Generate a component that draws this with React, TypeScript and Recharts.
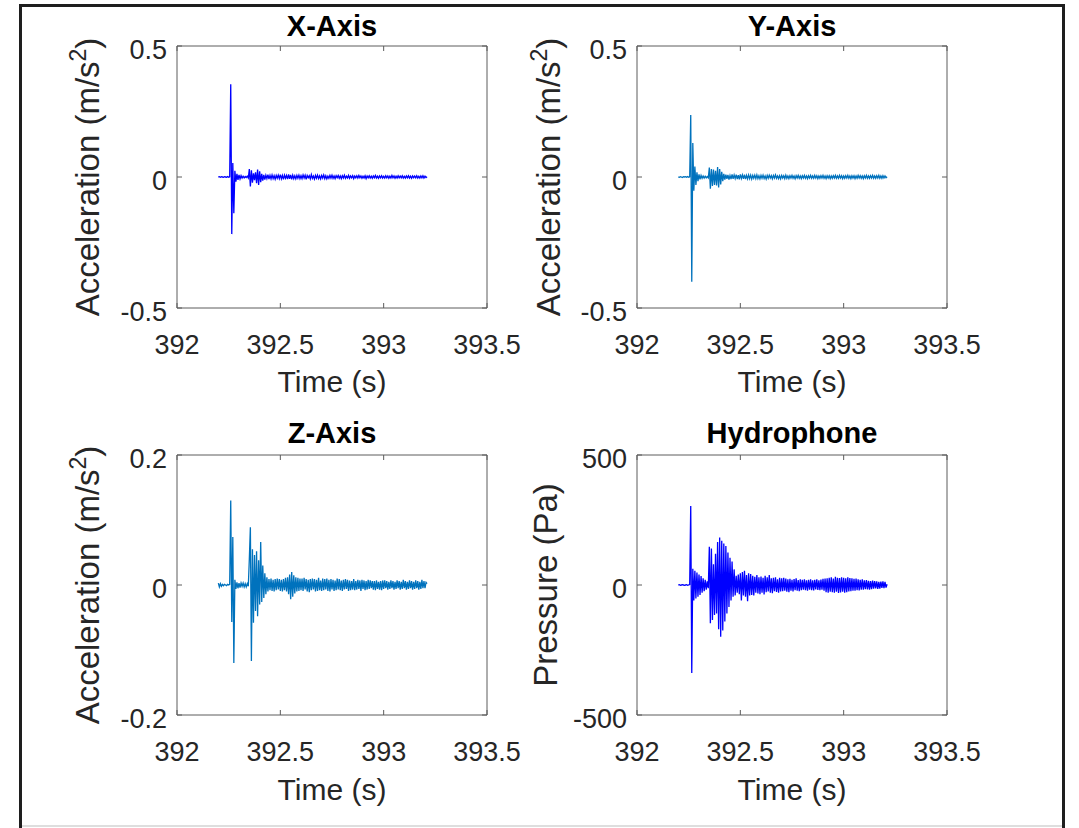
import { LineChart, Line, XAxis, YAxis } from "recharts";

// sample times (s), 5 ms spacing
const time = [
  392.2, 392.205, 392.21, 392.215, 392.22, 392.225, 392.23, 392.235, 392.24, 392.245,
  392.25, 392.255, 392.26, 392.265, 392.27, 392.275, 392.28, 392.285, 392.29, 392.295,
  392.3, 392.305, 392.31, 392.315, 392.32, 392.325, 392.33, 392.335, 392.34, 392.345,
  392.35, 392.355, 392.36, 392.365, 392.37, 392.375, 392.38, 392.385, 392.39, 392.395,
  392.4, 392.405, 392.41, 392.415, 392.42, 392.425, 392.43, 392.435, 392.44, 392.445,
  392.45, 392.455, 392.46, 392.465, 392.47, 392.475, 392.48, 392.485, 392.49, 392.495,
  392.5, 392.505, 392.51, 392.515, 392.52, 392.525, 392.53, 392.535, 392.54, 392.545,
  392.55, 392.555, 392.56, 392.565, 392.57, 392.575, 392.58, 392.585, 392.59, 392.595,
  392.6, 392.605, 392.61, 392.615, 392.62, 392.625, 392.63, 392.635, 392.64, 392.645,
  392.65, 392.655, 392.66, 392.665, 392.67, 392.675, 392.68, 392.685, 392.69, 392.695,
  392.7, 392.705, 392.71, 392.715, 392.72, 392.725, 392.73, 392.735, 392.74, 392.745,
  392.75, 392.755, 392.76, 392.765, 392.77, 392.775, 392.78, 392.785, 392.79, 392.795,
  392.8, 392.805, 392.81, 392.815, 392.82, 392.825, 392.83, 392.835, 392.84, 392.845,
  392.85, 392.855, 392.86, 392.865, 392.87, 392.875, 392.88, 392.885, 392.89, 392.895,
  392.9, 392.905, 392.91, 392.915, 392.92, 392.925, 392.93, 392.935, 392.94, 392.945,
  392.95, 392.955, 392.96, 392.965, 392.97, 392.975, 392.98, 392.985, 392.99, 392.995,
  393.0, 393.005, 393.01, 393.015, 393.02, 393.025, 393.03, 393.035, 393.04, 393.045,
  393.05, 393.055, 393.06, 393.065, 393.07, 393.075, 393.08, 393.085, 393.09, 393.095,
  393.1, 393.105, 393.11, 393.115, 393.12, 393.125, 393.13, 393.135, 393.14, 393.145,
  393.15, 393.155, 393.16, 393.165, 393.17, 393.175, 393.18, 393.185, 393.19, 393.195,
  393.2, 393.205, 393.21,
];

// X-axis acceleration (m/s^2)
const accX = [
  0, 0.001, -0.001, 0.001, 0, -0.001, 0.001, 0, -0.001, 0.002,
  -0.001, 0.001, 0.354, -0.218, 0.053, -0.138, 0.024, -0.018, 0.012, -0.011,
  0.008, -0.007, 0.005, -0.004, 0.003, -0.003, 0.002, -0.002, 0.003, -0.004,
  0.03, -0.036, 0.026, -0.022, 0.014, -0.012, 0.018, -0.024, 0.028, -0.03,
  0.022, -0.02, 0.012, -0.014, 0.008, -0.01, 0.007, -0.006, 0.009, -0.008,
  0.006, -0.007, 0.008, -0.006, 0.005, -0.008, 0.006, -0.005, 0.007, -0.006,
  0.009, -0.007, 0.006, -0.009, 0.007, -0.005, 0.006, -0.008, 0.01, -0.007,
  0.008, -0.009, 0.007, -0.006, 0.005, -0.007, 0.006, -0.005, 0.007, -0.006,
  0.005, -0.006, 0.008, -0.004, 0.007, -0.009, 0.006, -0.003, 0.005, -0.007,
  0.009, -0.005, 0.004, -0.008, 0.006, -0.005, 0.007, -0.006, 0.004, -0.007,
  0.006, -0.004, 0.008, -0.006, 0.005, -0.007, 0.003, -0.005, 0.006, -0.004,
  0.007, -0.005, 0.004, -0.006, 0.005, -0.003, 0.006, -0.005, 0.004, -0.006,
  0.005, -0.004, 0.007, -0.005, 0.003, -0.004, 0.006, -0.005, 0.004, -0.003,
  0.005, -0.006, 0.004, -0.003, 0.005, -0.004, 0.006, -0.003, 0.004, -0.005,
  0.003, -0.004, 0.005, -0.006, 0.004, -0.003, 0.005, -0.004, 0.003, -0.005,
  0.004, -0.003, 0.006, -0.004, 0.003, -0.005, 0.004, -0.003, 0.005, -0.004,
  0.003, -0.004, 0.005, -0.003, 0.004, -0.005, 0.003, -0.004, 0.006, -0.003,
  0.004, -0.005, 0.003, -0.004, 0.005, -0.003, 0.004, -0.003, 0.005, -0.004,
  0.003, -0.004, 0.004, -0.003, 0.005, -0.004, 0.003, -0.005, 0.004, -0.003,
  0.004, -0.003, 0.005, -0.004, 0.003, -0.004, 0.004, -0.003, 0.005, -0.004,
  0.003, -0.002, 0.001,
];

// Y-axis acceleration (m/s^2)
const accY = [
  0, -0.001, 0.001, 0, -0.002, 0.001, 0, 0.001, -0.001, 0.002,
  -0.001, 0.001, 0.237, -0.4, 0.13, -0.052, 0.04, -0.03, 0.018, -0.016,
  0.01, -0.009, 0.006, -0.005, 0.004, -0.004, 0.003, -0.003, 0.002, -0.003,
  0.036, -0.045, 0.03, -0.034, 0.028, -0.03, 0.024, -0.032, 0.038, -0.04,
  0.03, -0.028, 0.02, -0.016, 0.012, -0.01, 0.009, -0.007, 0.008, -0.01,
  0.006, -0.008, 0.01, -0.007, 0.008, -0.006, 0.009, -0.008, 0.007, -0.009,
  0.01, -0.006, 0.008, -0.007, 0.009, -0.008, 0.006, -0.007, 0.008, -0.006,
  0.007, -0.008, 0.006, -0.005, 0.007, -0.006, 0.008, -0.006, 0.005, -0.007,
  0.006, -0.005, 0.007, -0.006, 0.004, -0.008, 0.006, -0.005, 0.007, -0.004,
  0.005, -0.007, 0.006, -0.004, 0.008, -0.005, 0.004, -0.006, 0.005, -0.007,
  0.006, -0.004, 0.005, -0.006, 0.007, -0.005, 0.004, -0.006, 0.005, -0.004,
  0.006, -0.005, 0.004, -0.007, 0.005, -0.004, 0.006, -0.005, 0.004, -0.006,
  0.005, -0.004, 0.006, -0.005, 0.004, -0.006, 0.005, -0.004, 0.006, -0.005,
  0.004, -0.005, 0.006, -0.004, 0.005, -0.006, 0.004, -0.005, 0.005, -0.004,
  0.006, -0.005, 0.004, -0.006, 0.005, -0.004, 0.005, -0.006, 0.004, -0.005,
  0.005, -0.004, 0.006, -0.005, 0.004, -0.005, 0.006, -0.004, 0.005, -0.006,
  0.004, -0.005, 0.005, -0.004, 0.006, -0.005, 0.004, -0.006, 0.005, -0.004,
  0.005, -0.006, 0.004, -0.005, 0.006, -0.004, 0.005, -0.005, 0.004, -0.006,
  0.005, -0.004, 0.006, -0.005, 0.004, -0.005, 0.005, -0.004, 0.006, -0.005,
  0.004, -0.005, 0.005, -0.004, 0.006, -0.005, 0.004, -0.005, 0.005, -0.004,
  0.004, -0.003, 0.001,
];

// Z-axis acceleration (m/s^2)
const accZ = [
  0.003, -0.003, 0.002, -0.002, 0.001, -0.001, 0.001, 0, -0.001, 0.001,
  0, 0.001, 0.13, -0.057, 0.074, -0.12, 0.008, -0.006, 0.004, -0.005,
  0.003, -0.004, 0.003, -0.002, 0.003, -0.003, 0.002, -0.003, 0.002, -0.002,
  0.04, 0.089, -0.117, 0.055, -0.058, 0.046, -0.04, 0.052, -0.048, 0.038,
  -0.03, 0.066, -0.026, 0.03, -0.02, 0.018, -0.014, 0.012, -0.01, 0.009,
  -0.008, 0.01, -0.009, 0.008, -0.01, 0.009, -0.008, 0.01, -0.007, 0.009,
  -0.009, 0.008, -0.01, 0.009, -0.008, 0.011, -0.01, 0.012, -0.014, 0.016,
  -0.022, 0.02, -0.018, 0.015, -0.013, 0.012, -0.01, 0.011, -0.009, 0.01,
  -0.008, 0.01, -0.009, 0.011, -0.007, 0.009, -0.01, 0.008, -0.011, 0.009,
  -0.008, 0.01, -0.007, 0.009, -0.01, 0.008, -0.009, 0.011, -0.008, 0.007,
  -0.009, 0.01, -0.008, 0.009, -0.007, 0.01, -0.009, 0.008, -0.01, 0.009,
  -0.007, 0.008, -0.009, 0.007, -0.008, 0.01, -0.007, 0.009, -0.008, 0.007,
  -0.009, 0.008, -0.007, 0.009, -0.006, 0.008, -0.009, 0.007, -0.008, 0.006,
  -0.007, 0.009, -0.008, 0.006, -0.007, 0.008, -0.006, 0.007, -0.009, 0.008,
  -0.006, 0.007, -0.008, 0.006, -0.007, 0.008, -0.006, 0.007, -0.005, 0.006,
  -0.007, 0.006, -0.008, 0.007, -0.006, 0.005, -0.007, 0.006, -0.008, 0.007,
  -0.006, 0.007, -0.005, 0.006, -0.007, 0.005, -0.006, 0.007, -0.005, 0.006,
  -0.007, 0.005, -0.006, 0.007, -0.005, 0.006, -0.007, 0.005, -0.006, 0.008,
  -0.005, 0.006, -0.007, 0.005, -0.006, 0.007, -0.005, 0.006, -0.007, 0.005,
  -0.006, 0.007, -0.005, 0.006, -0.007, 0.005, -0.006, 0.008, -0.005, 0.006,
  -0.005, 0.004, 0.002,
];

// hydrophone pressure (Pa)
const pressure = [
  0, 1, -1, 0, 1, 0, -1, 0, 1, -1,
  0, 2, 304, -338, 62, -60, 55, -52, 48, -45,
  40, -38, 34, -30, 26, -24, 20, -18, 14, -12,
  147, -147, 140, -135, 80, -115, 120, -110, 165, -170,
  183, -199, 170, -175, 160, -140, 150, -110, 125, -85,
  105, -60, 90, -45, 60, -40, 35, -30, 40, -35,
  45, -60, 50, -40, 55, -45, 38, -62, 45, -40,
  42, -38, 35, -40, 32, -30, 38, -33, 30, -35,
  33, -30, 28, -36, 35, -28, 30, -25, 38, -30,
  26, -32, 28, -24, 30, -27, 22, -30, 28, -25,
  26, -24, 28, -22, 25, -26, 22, -28, 24, -22,
  20, -25, 23, -20, 26, -22, 19, -24, 22, -20,
  20, -18, 22, -20, 18, -22, 20, -18, 22, -20,
  18, -21, 20, -17, 22, -19, 18, -20, 21, -18,
  24, -22, 25, -28, 26, -30, 28, -26, 30, -28,
  25, -30, 32, -26, 28, -31, 27, -29, 30, -26,
  28, -30, 26, -28, 30, -25, 27, -24, 26, -22,
  24, -22, 25, -20, 22, -21, 20, -18, 22, -18,
  18, -16, 19, -17, 16, -18, 15, -16, 17, -14,
  15, -13, 14, -15, 12, -14, 13, -11, 14, -12,
  12, -10, 3,
];

const timeTicks = [392, 392.5, 393, 393.5];
const accTicks = [-0.5, 0, 0.5];
const accZTicks = [-0.2, 0, 0.2];
const pressureTicks = [-500, 0, 500];

const rows = time.map((t, i) => ({
  t,
  x: accX[i],
  y: accY[i],
  z: accZ[i],
  p: pressure[i],
}));

const FONT = '"Liberation Sans", Arial, Helvetica, sans-serif';
const AXIS = "#5c5c5c";
const TEXT = "#262626";
const PLOT_W = 310;

function Panel({
  left,
  top,
  height,
  dataKey,
  color,
  ticks,
}: {
  left: number;
  top: number;
  height: number;
  dataKey: string;
  color: string;
  ticks: number[];
}) {
  const domain = [ticks[0], ticks[ticks.length - 1]];
  return (
    <div style={{ position: "absolute", left: left - 140, top: top - 30 }}>
      <LineChart
        width={PLOT_W + 190}
        height={height + 100}
        data={rows}
        margin={{ top: 29, right: 49, bottom: 0, left: 0 }}
      >
        <XAxis
          xAxisId="b"
          dataKey="t"
          type="number"
          domain={[392, 393.5]}
          ticks={timeTicks}
          interval={0}
          height={70}
          tickSize={-5}
          tickMargin={32}
          stroke={AXIS}
          tick={{ fill: TEXT, fontSize: 27, fontFamily: FONT }}
          allowDataOverflow
        />
        <XAxis
          xAxisId="t"
          orientation="top"
          dataKey="t"
          type="number"
          domain={[392, 393.5]}
          ticks={timeTicks}
          interval={0}
          height={1}
          tickSize={-5}
          tickFormatter={() => ""}
          stroke={AXIS}
          allowDataOverflow
        />
        <YAxis
          yAxisId="l"
          type="number"
          domain={domain}
          ticks={ticks}
          interval={0}
          width={140}
          tickSize={-5}
          tickMargin={15}
          stroke={AXIS}
          tick={{ fill: TEXT, fontSize: 27, fontFamily: FONT, dy: 3 }}
          allowDataOverflow
        />
        <YAxis
          yAxisId="r"
          orientation="right"
          type="number"
          domain={domain}
          ticks={ticks}
          interval={0}
          width={1}
          tickSize={-5}
          tickFormatter={() => ""}
          stroke={AXIS}
          allowDataOverflow
        />
        <Line
          xAxisId="b"
          yAxisId="l"
          type="linear"
          dataKey={dataKey}
          stroke={color}
          strokeWidth={1.3}
          dot={false}
          isAnimationActive={false}
        />
      </LineChart>
    </div>
  );
}

function AccLabel({ x, y }: { x: number; y: number }) {
  return (
    <text
      x={x}
      y={y}
      transform={`rotate(-90, ${x}, ${y})`}
      textAnchor="middle"
      fontSize={33}
      fill={TEXT}
      fontFamily={FONT}
    >
      Acceleration (m/s
      <tspan dy={-13} fontSize={23}>
        2
      </tspan>
      <tspan dy={13}>)</tspan>
    </text>
  );
}

export default function App() {
  return (
    <div
      style={{
        position: "absolute",
        left: 0,
        top: 0,
        width: 1079,
        height: 828,
        overflow: "hidden",
        background: "#fff",
        fontFamily: FONT,
      }}
    >
      <div
        style={{
          position: "absolute",
          left: 19,
          top: 4,
          width: 1046,
          height: 900,
          border: "3px solid #1e1e1e",
          boxSizing: "border-box",
        }}
      />
      <div
        style={{
          position: "absolute",
          left: 22,
          top: 825,
          width: 1040,
          height: 2,
          background: "#dedede",
        }}
      />

      <Panel left={177} top={46} height={262} dataKey="x" color="#0000ff" ticks={accTicks} />
      <Panel left={637} top={46} height={262} dataKey="y" color="#0072bd" ticks={accTicks} />
      <Panel left={177} top={455} height={260} dataKey="z" color="#0072bd" ticks={accZTicks} />
      <Panel left={637} top={455} height={260} dataKey="p" color="#0000ff" ticks={pressureTicks} />

      <svg
        width={1079}
        height={828}
        style={{ position: "absolute", left: 0, top: 0, pointerEvents: "none" }}
      >
        <g fontFamily={FONT} fill="#000" fontWeight="bold" fontSize={29} textAnchor="middle">
          <text x={332} y={36}>X-Axis</text>
          <text x={792} y={36}>Y-Axis</text>
          <text x={332} y={443}>Z-Axis</text>
          <text x={792} y={443}>Hydrophone</text>
        </g>
        <g fontFamily={FONT} fill={TEXT} fontSize={30} textAnchor="middle">
          <text x={332} y={392}>Time (s)</text>
          <text x={792} y={392}>Time (s)</text>
          <text x={332} y={800}>Time (s)</text>
          <text x={792} y={800}>Time (s)</text>
        </g>
        <AccLabel x={99} y={177} />
        <AccLabel x={560} y={177} />
        <AccLabel x={99} y={585} />
        <text
          x={557}
          y={585}
          transform="rotate(-90, 557, 585)"
          textAnchor="middle"
          fontSize={33}
          fill={TEXT}
          fontFamily={FONT}
        >
          Pressure (Pa)
        </text>
      </svg>
    </div>
  );
}
